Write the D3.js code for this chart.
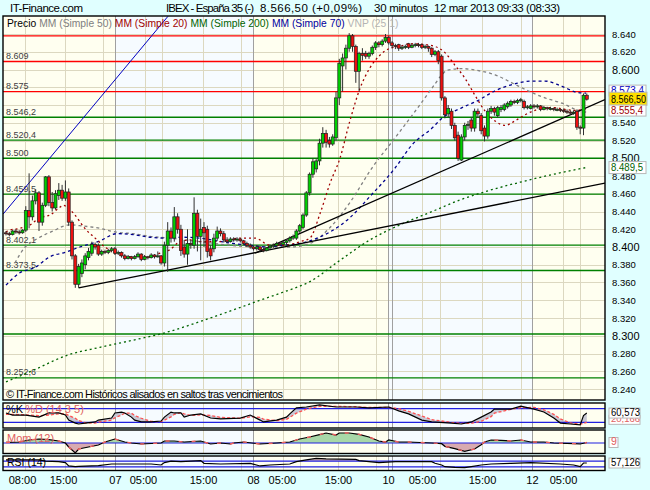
<!DOCTYPE html>
<html><head><meta charset="utf-8">
<script src="https://cdn.jsdelivr.net/npm/d3@7"></script>
<style>
body{margin:0;background:#e0ffff;}
svg{display:block;font-family:"Liberation Sans",Arial,sans-serif;}
</style></head><body><svg id="c" width="650" height="490"></svg>
<script>
// ---------- DATA ----------
// 30-minute candles [open, high, low, close]
const ohlc = [
[8416,8418,8413,8415],[8415,8417,8412,8414],[8414,8419,8413,8418],[8418,8420,8415,8417],[8417,8419,8414,8416],
[8416,8420,8415,8419],[8419,8446,8417,8441],[8441,8483,8421,8434],[8434,8458,8430,8452],[8452,8465,8448,8461],
[8461,8463,8418,8428],[8428,8450,8424,8447],[8447,8480,8445,8479],[8479,8481,8446,8450],[8450,8462,8440,8444],
[8444,8464,8442,8460],[8458,8472,8453,8464],[8464,8470,8452,8455],[8455,8475,8452,8462],[8462,8466,8424,8428],
[8428,8430,8386,8390],[8390,8392,8354,8358],[8358,8381,8354,8378],[8370,8386,8366,8382],[8380,8393,8375,8390],
[8388,8399,8385,8395],[8393,8406,8390,8403],[8403,8405,8397,8400],[8402,8404,8390,8392],[8392,8397,8390,8395],
[8395,8397,8392,8394],[8394,8398,8392,8396],[8396,8400,8394,8398],[8398,8400,8391,8393],[8393,8396,8391,8394],
[8394,8395,8388,8390],[8390,8392,8385,8387],[8387,8391,8386,8389],[8389,8390,8385,8387],[8387,8391,8386,8389],
[8389,8394,8388,8392],[8392,8393,8384,8386],[8386,8391,8385,8389],[8389,8390,8386,8388],[8388,8393,8387,8391],
[8391,8392,8387,8389],[8389,8395,8388,8390],[8390,8391,8380,8382],[8382,8406,8378,8402],[8402,8428,8372,8418],
[8418,8422,8405,8410],[8410,8445,8406,8434],[8434,8438,8415,8420],[8420,8425,8390,8396],[8400,8408,8388,8392],
[8392,8420,8380,8404],[8404,8408,8398,8403],[8402,8456,8398,8438],[8438,8442,8395,8412],[8412,8432,8385,8420],
[8422,8428,8400,8416],[8420,8424,8388,8395],[8398,8402,8385,8390],[8398,8415,8394,8410],[8410,8423,8407,8418],
[8418,8421,8412,8415],[8415,8418,8405,8408],[8408,8411,8404,8406],[8406,8411,8405,8409],[8409,8411,8406,8408],
[8408,8411,8406,8409],[8409,8410,8405,8407],[8407,8408,8402,8404],[8404,8406,8400,8402],[8402,8404,8398,8400],
[8400,8402,8396,8398],[8398,8402,8396,8400],[8400,8401,8395,8397],[8397,8399,8394,8396],[8396,8400,8395,8399],
[8399,8403,8397,8401],[8401,8404,8399,8402],[8402,8406,8400,8404],[8404,8405,8401,8403],[8403,8407,8402,8405],
[8405,8409,8403,8407],[8407,8412,8405,8410],[8410,8414,8408,8412],[8410,8420,8408,8418],[8418,8426,8416,8424],
[8422,8438,8420,8436],[8436,8463,8434,8461],[8461,8484,8458,8482],[8482,8500,8478,8496],[8488,8499,8484,8497],
[8497,8522,8492,8517],[8517,8535,8512,8528],[8528,8532,8512,8518],[8520,8524,8512,8516],[8516,8527,8514,8524],
[8523,8575,8520,8568],[8568,8612,8560,8607],[8604,8618,8575,8613],[8613,8628,8600,8624],[8624,8641,8620,8638],
[8638,8640,8620,8626],[8626,8628,8585,8598],[8598,8620,8575,8618],[8618,8624,8610,8616],[8618,8621,8612,8615],
[8615,8620,8612,8618],[8618,8627,8616,8625],[8625,8632,8622,8630],[8630,8632,8625,8628],[8628,8634,8626,8632],
[8632,8640,8630,8636],[8636,8638,8628,8630],[8630,8632,8624,8627],[8627,8629,8623,8626],[8628,8629,8621,8624],
[8624,8627,8622,8625],[8625,8628,8623,8626],[8629,8630,8623,8625],[8625,8629,8624,8627],[8627,8630,8625,8628],
[8628,8630,8625,8627],[8628,8629,8623,8625],[8625,8628,8623,8626],[8626,8627,8620,8624],[8624,8625,8614,8617],
[8617,8622,8615,8620],[8620,8622,8606,8610],[8615,8617,8565,8568],[8568,8570,8545,8549],[8550,8560,8546,8556],
[8553,8556,8533,8537],[8537,8540,8520,8523],[8526,8530,8497,8500],[8498,8527,8497,8524],[8524,8540,8520,8537],
[8537,8542,8532,8538],[8543,8546,8530,8534],[8534,8556,8530,8553],[8553,8556,8546,8550],[8548,8551,8527,8531],
[8534,8537,8519,8525],[8525,8556,8522,8553],[8553,8559,8550,8556],[8556,8558,8548,8552],[8548,8559,8546,8557],
[8555,8560,8552,8557],[8555,8562,8553,8560],[8558,8564,8556,8562],[8560,8566,8558,8564],[8564,8566,8561,8563],
[8563,8567,8561,8565],[8565,8568,8563,8566],[8564,8566,8555,8557],[8557,8560,8555,8558],[8556,8561,8555,8559],
[8559,8561,8556,8558],[8558,8561,8556,8559],[8559,8560,8553,8555],[8555,8559,8554,8557],[8557,8558,8554,8556],
[8556,8558,8554,8556],[8556,8557,8553,8555],[8555,8557,8553,8555],[8555,8556,8552,8554],[8554,8556,8551,8553],
[8553,8555,8550,8552],[8552,8554,8549,8551],[8551,8554,8549,8552],[8553,8555,8532,8535],[8535,8537,8527,8534],
[8534,8573,8526,8571],[8571,8573,8565,8566.5]
];
// moving averages: [candle index, price]
const ma20 = [[0,8417],[1.2,8419],[4.2,8421],[7.3,8425],[10.3,8433],[13.3,8436],[16.4,8445],[17.3,8447],[18.5,8445],[20.9,8436],[23.9,8421],[27,8410],[30,8400],[33,8393],[37.6,8389],[43.6,8389],[46.7,8393],[49.7,8397],[52.7,8406],[55.8,8408],[58.8,8406],[64.8,8406],[70.9,8410],[75.5,8410],[80,8402],[84.5,8402],[89.1,8406],[92.1,8410],[95.2,8438],[98.2,8472],[101.2,8500],[104.2,8542],[107.3,8579],[110.3,8602],[113.3,8616],[116.4,8624],[119.4,8626],[122.4,8629],[127,8628],[130,8626],[133,8619],[136,8605],[139.1,8590],[142.1,8571],[145.2,8553],[148.2,8542],[151.2,8537],[154.2,8542],[157.3,8549],[160.3,8554],[163.3,8557],[166.4,8557],[169.4,8555],[172.4,8554],[175.8,8555.4]];
const ma50 = [[2.7,8382],[5.8,8400],[8.8,8408],[11.8,8414],[14.8,8419],[17,8423],[19.4,8425],[22.4,8424],[28.5,8421],[33,8417],[38.5,8415],[43.6,8412],[49.7,8410],[58.8,8406],[67.9,8402],[77,8400],[86.1,8400],[92.1,8404],[98.2,8422],[104.2,8450],[110.9,8489],[117.9,8523],[124.8,8557],[129.1,8579],[132.1,8594],[133.6,8599],[138.2,8601],[142.7,8599],[148.2,8594],[153.3,8585],[158.2,8576],[163.3,8568],[168.5,8562],[173.3,8554],[175.8,8552]];
const ma70 = [[0,8357],[4.2,8371],[8.8,8377],[13.3,8389],[17.9,8394],[22.4,8400],[28.5,8407],[33.6,8415],[38.5,8414],[43.6,8411],[48.8,8410],[53.6,8411],[58.8,8410],[63.9,8407],[68.8,8404],[73.9,8402],[79.1,8400],[83.9,8402],[89.1,8404],[92.1,8407],[98.2,8417],[104.2,8433],[110.3,8457],[117.9,8489],[123,8515],[129.1,8534],[132.1,8545],[138.2,8557],[143,8565],[148.2,8576],[153.3,8583],[159.4,8587],[163.3,8587],[168.5,8581],[173.3,8574],[175.8,8573.4]];
const ma200 = [[0,8248],[8.2,8261],[18.5,8278],[28.5,8287],[38.5,8295],[48.8,8304],[58.8,8316],[68.8,8329],[77,8340],[83.9,8349],[92.1,8361],[101.2,8385],[110.3,8408],[119.4,8425],[128.5,8439],[137.6,8453],[146.7,8464],[155.8,8473],[164.8,8481],[175.8,8489.5]];
// horizontal support / resistance levels
const redLevels = [8638, 8609, 8575];
const greenLevels = [8546.2, 8520.4, 8500, 8459.5, 8402.1, 8373.5, 8302, 8252.6];
const unlabeledLevels = [8638, 8302];
// trend lines [[index, price],[index, price]]
const blackTrends = [[[22,8354],[181.5,8472]], [[75.5,8393],[181.5,8566]]];
const blueTrends = [[[-0.9,8437],[49.1,8660]]];
// stochastic [index, %K, %D]
const stoch = [[0,61,55],[2,52,55],[6,52,53],[10,43,49],[13,61,52],[16,61,57],[18,52,58],[19,30,50],[21,17,38],[22,13,28],[24,17,18],[27,22,17],[28,30,21],[32,39,30],[33,61,40],[35,65,52],[36,61,60],[38,43,60],[39,30,50],[41,22,38],[44,22,24],[47,26,23],[48,43,30],[50,65,44],[51,61,55],[53,61,62],[54,43,57],[56,52,50],[59,57,53],[62,39,50],[65,35,42],[71,39,38],[74,52,44],[77,30,42],[78,22,34],[82,30,28],[85,43,33],[86,57,42],[88,83,60],[91,87,78],[95,96,90],[100,87,90],[106,87,88],[110,83,85],[116,87,85],[119,70,80],[122,57,68],[126,30,48],[129,22,32],[135,17,20],[138,13,16],[141,22,16],[144,43,25],[147,65,45],[148,78,60],[153,78,77],[156,91,84],[160,78,85],[163,65,75],[166,39,55],[168,17,35],[171,13,18],[174,9,12],[175,50,16],[176,60.6,20.2]];
// momentum (12) [index, value]
const mom = [[0,10],[4,18],[7,54],[10,72],[13,60],[16,36],[18,0],[19,-72],[21,-180],[22,-108],[25,-72],[28,-36],[30,18],[32,54],[33,72],[36,18],[38,0],[41,-18],[47,0],[48,36],[51,36],[54,18],[59,36],[62,-18],[65,0],[68,-18],[69,0],[72,18],[77,-18],[82,0],[86,18],[89,72],[92,108],[95,150],[97,180],[100,144],[101,180],[104,180],[107,156],[110,108],[113,36],[115,18],[116,54],[119,18],[122,18],[129,0],[132,-12],[133,-60],[136,-102],[139,-150],[142,-108],[144,-30],[145,18],[147,54],[150,48],[153,36],[156,54],[159,18],[163,18],[166,0],[172,-12],[174,-18],[176,9]];
// RSI (14) [index, value]
const rsi = [[0,79],[10,79],[12,71],[16,67],[18,60],[19,36],[21,31],[22,33],[28,38],[32,50],[44,50],[47,43],[48,60],[50,71],[53,67],[59,74],[60,55],[65,50],[74,55],[77,36],[80,43],[86,50],[88,67],[91,79],[94,90],[97,86],[106,83],[107,74],[113,60],[118,67],[129,67],[130,55],[132,43],[133,31],[136,26],[139,24],[141,31],[144,43],[147,50],[153,55],[159,60],[168,50],[172,43],[174,31],[175,57],[176,57.1]];
// time axis
const xTickPos = [4.85,17.27,33.03,41.5,59.7,74.85,83.6,100.6,115.76,126.06,144.24,159.39,168.79];
const xTickLabels = ["08:00","15:00","07","05:00","15:00","08","05:00","15:00","10","05:00","15:00","12","05:00"];
const gridPos = [5.76,17.88,29.39,42.12,47.27,59.7,71.21,83.94,89.09,100.6,112.12,126.06,131.5,144.24,156.06,168.79,173.94];
const dayPos = [33.03,74.85,115.76,116.97,159.39];
const yTicks = d3.range(8240, 8641, 20);
const yMajor = [8600, 8500, 8400, 8300];
const yHidden = [8580, 8560];          // price labels covered by the value boxes
const legendNames = ["Precio","MM (Simple 50)","MM (Simple 20)","MM (Simple 200)","MM (Simple 70)","VNP (25 1)"];
const legendColors = ["#000","#808080","#a00000","#006400","#0000a0","#b4b4b4"];

// ---------- DRAW ----------
const svg = d3.select('#c');
const L = 3, R = 605;
const xs = d3.scaleLinear().domain([0,176]).range([6,586.8]);
const ys = d3.scaleLinear().domain([8240,8640]).range([389,34]);
const P = {main:[16,400], k:[403,428], m:[430,453.5], r:[456,470.5]};
const defs = svg.append('defs');
Object.entries(P).forEach(([k,[t,b]])=>{
  defs.append('clipPath').attr('id','clip-'+k).append('rect').attr('x',L).attr('y',t).attr('width',R-L).attr('height',b-t);
});
const fmtLevel = v => { const s = (Math.round(v*10)/10).toString().split('.'); return s[0][0]+'.'+s[0].slice(1)+(s[1]?','+s[1]:''); };

function panelBase(key){
  const [t,b] = P[key];
  const g = svg.append('g').attr('clip-path',`url(#clip-${key})`);
  g.append('rect').attr('x',L).attr('y',t).attr('width',R-L).attr('height',b-t).attr('fill','#fffff0');
  const bands = [[dayPos[0],dayPos[1]],[dayPos[2],dayPos[4]]];
  g.selectAll('rect.band').data(bands).join('rect').attr('class','band')
    .attr('x',d=>xs(d[0])).attr('y',t).attr('width',d=>xs(d[1])-xs(d[0])).attr('height',b-t).attr('fill','#f6fbff');
  g.selectAll('line.vg').data(gridPos).join('line').attr('class','vg')
    .attr('x1',d=>Math.round(xs(d))+0.5).attr('x2',d=>Math.round(xs(d))+0.5).attr('y1',t).attr('y2',b)
    .attr('stroke','#dcd8c0').attr('stroke-width',1);
  return g;
}
function panelFrame(key){
  const [t,b] = P[key];
  svg.append('rect').attr('x',L).attr('y',t).attr('width',R-L).attr('height',b-t)
    .attr('fill','none').attr('stroke','#000').attr('stroke-width',1.4);
}
function daySeps(g,key){
  const [t,b] = P[key];
  g.selectAll('line.ds').data(dayPos).join('line').attr('class','ds')
    .attr('x1',d=>Math.round(xs(d))+0.5).attr('x2',d=>Math.round(xs(d))+0.5).attr('y1',t).attr('y2',b)
    .attr('stroke','#a0a0a0').attr('stroke-width',1);
}

// main panel
const gm = panelBase('main');
gm.selectAll('line.hg').data(yTicks).join('line').attr('class','hg')
  .attr('x1',L).attr('x2',R).attr('y1',d=>Math.round(ys(d))+0.5).attr('y2',d=>Math.round(ys(d))+0.5)
  .attr('stroke','#dcd8c0');
daySeps(gm,'main');
const levels = redLevels.map(v=>({v,c:'#ff0000'})).concat(greenLevels.map(v=>({v,c:'#008000'})));
gm.selectAll('line.lv').data(levels).join('line').attr('class','lv')
  .attr('x1',L).attr('x2',R).attr('y1',d=>ys(d.v)).attr('y2',d=>ys(d.v))
  .attr('stroke',d=>d.c).attr('stroke-width',1.3);
gm.selectAll('text.lv').data(levels.filter(d=>!unlabeledLevels.includes(d.v))).join('text').attr('class','lv')
  .attr('x',6).attr('y',d=>ys(d.v)-2.5).attr('font-size',9).attr('fill','#404040').text(d=>fmtLevel(d.v));

const lineGen = d3.line().x(d=>xs(d[0])).y(d=>ys(d[1])).curve(d3.curveMonotoneX);
[[ma200,'#006400','2,3'],[ma50,'#808080','3,3'],[ma70,'#00008c','3,3'],[ma20,'#a00000','2,3']].forEach(([d,c,da])=>{
  gm.append('path').datum(d).attr('d',lineGen).attr('fill','none').attr('stroke',c).attr('stroke-width',1.3).attr('stroke-dasharray',da);
});
const tl = d3.line().x(d=>xs(d[0])).y(d=>ys(d[1]));
gm.selectAll('path.bt').data(blackTrends).join('path').attr('class','bt').attr('d',tl).attr('stroke','#000').attr('stroke-width',1.3).attr('fill','none');
gm.selectAll('path.blt').data(blueTrends).join('path').attr('class','blt').attr('d',tl).attr('stroke','#0000c0').attr('stroke-width',1).attr('fill','none');

// candles
const cw = 3;
gm.selectAll('line.wick').data(ohlc).join('line').attr('class','wick')
  .attr('x1',(d,i)=>xs(i)).attr('x2',(d,i)=>xs(i)).attr('y1',d=>ys(d[1])).attr('y2',d=>ys(d[2]))
  .attr('stroke','#303030').attr('stroke-width',1);
gm.selectAll('rect.body').data(ohlc).join('rect').attr('class','body')
  .attr('x',(d,i)=>xs(i)-cw/2).attr('width',cw)
  .attr('y',d=>ys(Math.max(d[0],d[3]))).attr('height',d=>Math.max(1,Math.abs(ys(d[0])-ys(d[3]))))
  .attr('fill',d=>d[3]>=d[0]?'#00d000':'#ee1010').attr('stroke','#202020').attr('stroke-width',0.7);

// legend
let lx = 7;
legendNames.forEach((n,i)=>{
  const t = svg.append('text').attr('x',lx).attr('y',27).attr('font-size',10.3).attr('fill',legendColors[i]).text(n);
  lx += t.node().getComputedTextLength()+3;
});
svg.append('text').attr('x',6).attr('y',398).attr('font-size',11).attr('textLength',277).attr('fill','#000')
  .text('© IT-Finance.com  Históricos alisados en saltos tras vencimientos');
panelFrame('main');

// right axis
const ax = svg.append('g').attr('transform',`translate(${R},0)`)
  .call(d3.axisRight(ys).tickValues(yTicks.filter(v=>!yHidden.includes(v))).tickSize(0).tickPadding(7).tickFormat(d=>(d/1000).toFixed(3)));
ax.select('.domain').remove();
ax.selectAll('text').attr('font-family','"Liberation Sans",Arial,sans-serif')
  .attr('font-size',d=>yMajor.includes(d)?11:9.5).attr('fill','#000');

// value boxes on right
function box(y0,h,txt,fill,color,fs,w,tw){
  svg.append('rect').attr('x',609).attr('y',y0).attr('width',w).attr('height',h).attr('fill',fill).attr('stroke','#b8b8b8');
  const t = svg.append('text').attr('x',611).attr('y',y0+h-2.5).attr('font-size',fs).attr('fill',color).text(txt);
  if(tw) t.attr('textLength',tw).attr('lengthAdjust','spacingAndGlyphs');
}
box(ys(ma70[ma70.length-1][1])-8,11,fmtLevel(ma70[ma70.length-1][1]),'#fff','#0000c0',10,37,33);
box(ys(ohlc[ohlc.length-1][3])-7,13,'8.566,50','#ffe000','#000',11,38,35);
box(ys(ma20[ma20.length-1][1])-4,11,fmtLevel(ma20[ma20.length-1][1]),'#fff','#a00000',10.5,37,32);
box(ys(ma200[ma200.length-1][1])-6,12,fmtLevel(ma200[ma200.length-1][1]),'#fff','#006400',10.5,37,32);

// stochastic panel
const kY = d3.scaleLinear().domain([0,100]).range([427,404]);
const gk = panelBase('k');
daySeps(gk,'k');
gk.append('path').datum(stoch).attr('d',d3.area().x(d=>xs(d[0])).y0(d=>kY(d[2])).y1(d=>kY(d[1]))).attr('fill','#c8c8d4');
gk.selectAll('line.bl').data([80,20]).join('line').attr('x1',L).attr('x2',R).attr('y1',d=>kY(d)).attr('y2',d=>kY(d)).attr('stroke','#2020e0').attr('stroke-width',1.2);
gk.append('path').datum(stoch).attr('d',d3.line().x(d=>xs(d[0])).y(d=>kY(d[2]))).attr('fill','none').attr('stroke','#ff5050').attr('stroke-width',1.3).attr('stroke-dasharray','3,2');
gk.append('path').datum(stoch).attr('d',d3.line().x(d=>xs(d[0])).y(d=>kY(d[1]))).attr('fill','none').attr('stroke','#000').attr('stroke-width',1.2);
const kLab = svg.append('text').attr('x',6).attr('y',413).attr('font-size',11).attr('fill','#000').text('%K');
svg.append('text').attr('x',6+kLab.node().getComputedTextLength()+2).attr('y',413).attr('font-size',11).attr('fill','#e06060').text('%D (14 3 5)');
panelFrame('k');
box(kY(20.2)-7,9,'20,166','#fff','#e06060',9,31,29);
box(kY(60.6)-5,10,'60,573','#fff','#000',10,31,29);

// momentum panel
const mY = d3.scaleLinear().domain([-200,200]).range([454.1,431.9]);
const gmo = panelBase('m');
daySeps(gmo,'m');
const mArea = d3.area().x(d=>xs(d[0])).y0(mY(0)).y1(d=>mY(d[1]));
defs.append('clipPath').attr('id','mpos').append('rect').attr('x',L).attr('y',P.m[0]).attr('width',R-L).attr('height',mY(0)-P.m[0]);
defs.append('clipPath').attr('id','mneg').append('rect').attr('x',L).attr('y',mY(0)).attr('width',R-L).attr('height',P.m[1]-mY(0));
gmo.append('path').datum(mom).attr('d',mArea).attr('fill','#a8d8a8').attr('clip-path','url(#mpos)');
gmo.append('path').datum(mom).attr('d',mArea).attr('fill','#d8aab0').attr('clip-path','url(#mneg)');
gmo.append('line').attr('x1',L).attr('x2',R).attr('y1',mY(0)).attr('y2',mY(0)).attr('stroke','#2020e0').attr('stroke-width',1.2);
const mLine = d3.line().x(d=>xs(d[0])).y(d=>mY(d[1]));
gmo.append('path').datum(mom).attr('d',mLine).attr('fill','none').attr('stroke','#000').attr('stroke-width',1.2);
gmo.append('path').datum(mom).attr('d',mLine).attr('fill','none').attr('stroke','#f06060').attr('stroke-width',1.4).attr('stroke-dasharray','4,9');
svg.append('text').attr('x',7).attr('y',442).attr('font-size',11).attr('fill','#e06060').text('Mom (12)');
panelFrame('m');
box(mY(9)-5,10,'9','#fff','#e06060',10.5,9);

// RSI panel
const rY = d3.scaleLinear().domain([0,100]).range([471,457]);
const gr = panelBase('r');
daySeps(gr,'r');
defs.append('clipPath').attr('id','rtop').append('rect').attr('x',L).attr('y',P.r[0]).attr('width',R-L).attr('height',rY(70)-P.r[0]);
gr.append('path').datum(rsi).attr('d',d3.area().x(d=>xs(d[0])).y0(rY(70)).y1(d=>rY(d[1]))).attr('fill','#d8b8b8').attr('clip-path','url(#rtop)');
gr.selectAll('line.bl').data([70,30]).join('line').attr('x1',L).attr('x2',R).attr('y1',d=>rY(d)).attr('y2',d=>rY(d)).attr('stroke','#2020e0').attr('stroke-width',1.2);
gr.append('path').datum(rsi).attr('d',d3.line().x(d=>xs(d[0])).y(d=>rY(d[1]))).attr('fill','none').attr('stroke','#000').attr('stroke-width',1.2);
svg.append('text').attr('x',7).attr('y',466).attr('font-size',10.5).attr('fill','#000').text('RSI (14)');
panelFrame('r');
box(rY(57.1)-5,10,'57,126','#fff','#000',10,31,29);

// x axis
const xa = svg.append('g').attr('transform','translate(0,472)')
  .call(d3.axisBottom(xs).tickValues(xTickPos).tickSize(0).tickPadding(4).tickFormat((d,i)=>xTickLabels[i]));
xa.select('.domain').remove();
xa.selectAll('text').attr('font-family','"Liberation Sans",Arial,sans-serif').attr('font-size',11).attr('fill','#000');

// header
svg.append('text').attr('x',10).attr('y',12).attr('font-size',11.5).attr('textLength',73).text('IT-Finance.com');
[[166,88,'IBEX - España 35 (-)'],[260,102,'8.566,50 (+0,09%)'],[374,54,'30 minutos'],[434,126,'12 mar 2013 09:33 (08:33)']].forEach(([x,w,t])=>{
  svg.append('text').attr('x',x).attr('y',12).attr('font-size',11.5).attr('textLength',w).text(t);
});
</script></body></html>
